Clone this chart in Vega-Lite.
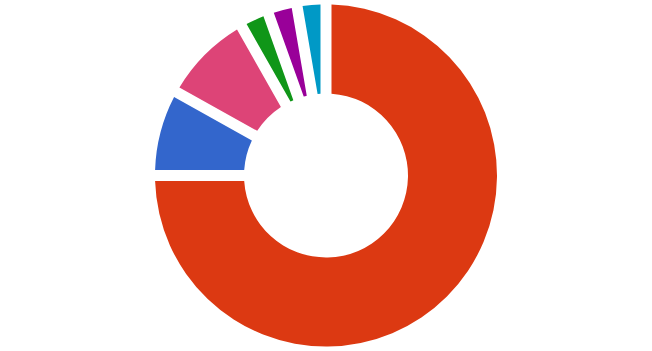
{
  "$schema": "https://vega.github.io/schema/vega-lite/v6.json",
  "width": 652,
  "height": 351,
  "autosize": {"type": "fit", "contains": "padding"},
  "padding": 0,
  "background": "white",
  "view": {"stroke": null},
  "data": {
    "values": [
      {"category": "A", "value": 75.0, "rank": 1},
      {"category": "B", "value": 8.1, "rank": 2},
      {"category": "C", "value": 8.7, "rank": 3},
      {"category": "D", "value": 2.75, "rank": 4},
      {"category": "E", "value": 2.75, "rank": 5},
      {"category": "F", "value": 2.7, "rank": 6}
    ]
  },
  "mark": {"type": "arc", "outerRadius": 171, "innerRadius": 82, "padAngle": 0.058},
  "encoding": {
    "theta": {"field": "value", "type": "quantitative", "stack": true},
    "order": {"field": "rank", "type": "quantitative"},
    "color": {
      "field": "category",
      "type": "nominal",
      "scale": {
        "domain": ["A", "B", "C", "D", "E", "F"],
        "range": ["#dc3912", "#3366cc", "#dd4477", "#109618", "#990099", "#0099c6"]
      },
      "legend": null
    }
  }
}
